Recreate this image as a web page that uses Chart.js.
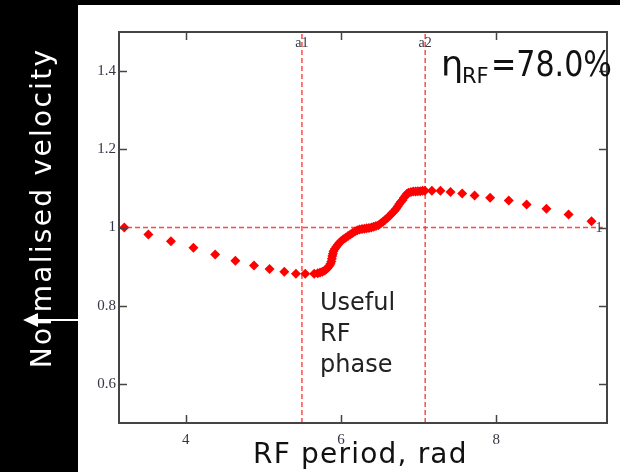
<!DOCTYPE html>
<html>
<head>
<meta charset="utf-8">
<script src="https://cdn.jsdelivr.net/npm/chart.js@4.4.1/dist/chart.umd.min.js"></script>
<style>
  html, body { margin: 0; padding: 0; background: #000; }
  #chart { display: block; }
</style>
</head>
<body>
<canvas id="chart" width="620" height="472"></canvas>
<script>
// RF phase (rad) and normalised velocity
const phase = [
    3.21, 3.52, 3.81, 4.10, 4.38, 4.64, 4.88, 5.08, 5.27, 5.42, 5.54, 5.655,
    5.70, 5.73, 5.76, 5.79, 5.81, 5.83, 5.85, 5.865, 5.875, 5.882, 5.888, 5.895,
    5.903, 5.92, 5.94, 5.96, 5.98, 6.00, 6.03, 6.06, 6.09, 6.12, 6.15, 6.18,
    6.21, 6.24, 6.27, 6.30, 6.33, 6.36, 6.39, 6.42, 6.45, 6.48, 6.51, 6.54,
    6.57, 6.60, 6.63, 6.66, 6.69, 6.71, 6.73, 6.75, 6.77, 6.79, 6.81, 6.83,
    6.85, 6.87, 6.90, 6.93, 6.96, 6.99, 7.02, 7.05, 7.08,
    7.17, 7.28, 7.41, 7.56, 7.72, 7.92, 8.16, 8.39, 8.645, 8.93, 9.225
];
const velocity = [
    1.000, 0.982, 0.965, 0.948, 0.931, 0.915, 0.903, 0.894, 0.887, 0.882, 0.882, 0.882,
    0.883, 0.885, 0.887, 0.890, 0.893, 0.897, 0.902, 0.907, 0.913, 0.920, 0.927, 0.933,
    0.939, 0.945, 0.951, 0.956, 0.961, 0.965, 0.970, 0.974, 0.978, 0.982, 0.986, 0.990,
    0.993, 0.995, 0.996, 0.997, 0.998, 0.999, 1.000, 1.002, 1.004, 1.006, 1.010, 1.015,
    1.020, 1.025, 1.031, 1.037, 1.043, 1.048, 1.054, 1.060, 1.065, 1.070, 1.076, 1.081,
    1.086, 1.089, 1.091, 1.092, 1.092, 1.093, 1.093, 1.094, 1.094,
    1.094, 1.094, 1.091, 1.087, 1.082, 1.076, 1.069, 1.059, 1.048, 1.033, 1.016
];

const markerPhase = [5.497, 7.084];
const markerLabels = ['a1', 'a2'];
const refVelocity = 1;

const xTicks = [4, 6, 8];
const yTicks = [0.6, 0.8, 1, 1.2, 1.4];
const yTickLabels = ['0.6', '0.8', '1', '1.2', '1.4'];

const xMin = Math.PI, xMax = 3 * Math.PI;
const yMin = 0.5, yMax = 1.5;

const dashRed = 'rgba(255,40,40,0.85)';
const tickColor = '#353545';
const sans = '"DejaVu Sans", sans-serif';
const serif = '"Liberation Serif", serif';

// dashed guide lines as line datasets
const guideSets = markerPhase.map(p => ({
    type: 'line',
    data: [{x: p, y: yMin}, {x: p, y: yMax}],
    borderColor: dashRed,
    borderWidth: 1.5,
    borderDash: [5, 3],
    pointRadius: 0,
    order: 2
}));
guideSets.push({
    type: 'line',
    data: [{x: xMin, y: refVelocity}, {x: 9.37, y: refVelocity}],
    borderColor: dashRed,
    borderWidth: 1.5,
    borderDash: [5, 3],
    pointRadius: 0,
    order: 2
});

const decor = {
    id: 'decor',
    beforeDraw(chart) {
        const c = chart.ctx;
        c.save();
        c.fillStyle = '#000';
        c.fillRect(0, 0, chart.width, chart.height);
        c.fillStyle = '#fff';
        c.fillRect(78, 5, chart.width - 78, chart.height - 5);
        c.restore();
    },
    afterDraw(chart) {
        const c = chart.ctx;
        const a = chart.chartArea;
        const xs = chart.scales.x, ys = chart.scales.y;
        c.save();

        // frame
        c.strokeStyle = '#444';
        c.lineWidth = 2;
        c.strokeRect(a.left, a.top, a.right - a.left, a.bottom - a.top);

        // inward ticks on all sides
        c.lineWidth = 1.5;
        c.beginPath();
        xTicks.forEach(v => {
            const px = Math.round(xs.getPixelForValue(v)) + 0.5;
            c.moveTo(px, a.bottom); c.lineTo(px, a.bottom - 8);
            c.moveTo(px, a.top); c.lineTo(px, a.top + 8);
        });
        yTicks.forEach(v => {
            const py = Math.round(ys.getPixelForValue(v)) + 0.5;
            c.moveTo(a.left, py); c.lineTo(a.left + 8, py);
            c.moveTo(a.right, py); c.lineTo(a.right - 8, py);
        });
        c.stroke();

        // marker labels
        c.fillStyle = tickColor;
        c.font = '14px ' + serif;
        c.textAlign = 'center';
        c.textBaseline = 'middle';
        markerPhase.forEach((p, i) => {
            c.fillText(markerLabels[i], xs.getPixelForValue(p), a.top + 11);
        });
        c.fillText('1', a.right - 8, ys.getPixelForValue(refVelocity) + 1);

        // efficiency note
        c.fillStyle = '#111';
        c.textAlign = 'left';
        c.textBaseline = 'alphabetic';
        c.font = '35px ' + sans;
        c.fillText('\u03b7', 441, 76);
        c.font = '21px ' + sans;
        c.fillText('RF', 462, 83);
        c.font = '35px ' + sans;
        c.fillText('=78.0%', 491, 76, 121);

        // useful phase note
        c.fillStyle = '#222';
        c.font = '24px ' + sans;
        c.fillText('Useful', 320, 310);
        c.fillText('RF', 320, 341);
        c.fillText('phase', 320, 372);

        // x title
        c.fillStyle = '#111';
        c.font = '28px ' + sans;
        c.letterSpacing = '1.2px';
        c.fillText('RF period, rad', 253, 463);

        // y title on black strip
        c.save();
        c.translate(51, 208);
        c.rotate(-Math.PI / 2);
        c.fillStyle = '#fff';
        c.textAlign = 'center';
        c.font = '28px ' + sans;
        c.letterSpacing = '2.3px';
        c.fillText('Normalised velocity', 0, 0);
        c.restore();
        c.letterSpacing = '0px';

        // arrow
        c.strokeStyle = '#fff';
        c.fillStyle = '#fff';
        c.lineWidth = 2;
        c.beginPath();
        c.moveTo(36, 320); c.lineTo(78, 320);
        c.stroke();
        c.beginPath();
        c.moveTo(23, 320); c.lineTo(38, 313); c.lineTo(38, 327);
        c.closePath();
        c.fill();

        c.restore();
    }
};

const ctx = document.getElementById('chart').getContext('2d');
new Chart(ctx, {
    type: 'scatter',
    data: {
        datasets: [{
            data: phase.map((p, i) => ({x: p, y: velocity[i]})),
            pointStyle: 'rectRot',
            pointRadius: 5,
            pointBackgroundColor: '#ff0000',
            pointBorderWidth: 0,
            showLine: false,
            order: 1
        }].concat(guideSets)
    },
    options: {
        responsive: false,
        animation: false,
        devicePixelRatio: 1,
        layout: { padding: { left: 0, top: 32, right: 13, bottom: 0 } },
        plugins: { legend: { display: false }, tooltip: { enabled: false } },
        scales: {
            x: {
                type: 'linear',
                min: xMin,
                max: xMax,
                afterBuildTicks: s => { s.ticks = xTicks.map(v => ({value: v})); },
                afterFit: s => { s.height = 49; },
                grid: { display: false, drawTicks: false },
                border: { display: false },
                ticks: {
                    padding: 8,
                    color: tickColor,
                    font: { family: serif, size: 15 },
                    callback: v => String(v)
                }
            },
            y: {
                min: yMin,
                max: yMax,
                afterBuildTicks: s => { s.ticks = yTicks.map(v => ({value: v})); },
                afterFit: s => { s.width = 119; },
                grid: { display: false, drawTicks: false },
                border: { display: false },
                ticks: {
                    padding: 3,
                    color: tickColor,
                    font: { family: serif, size: 15 },
                    callback: v => yTickLabels[yTicks.indexOf(v)]
                }
            }
        }
    },
    plugins: [decor]
});
</script>
</body>
</html>
